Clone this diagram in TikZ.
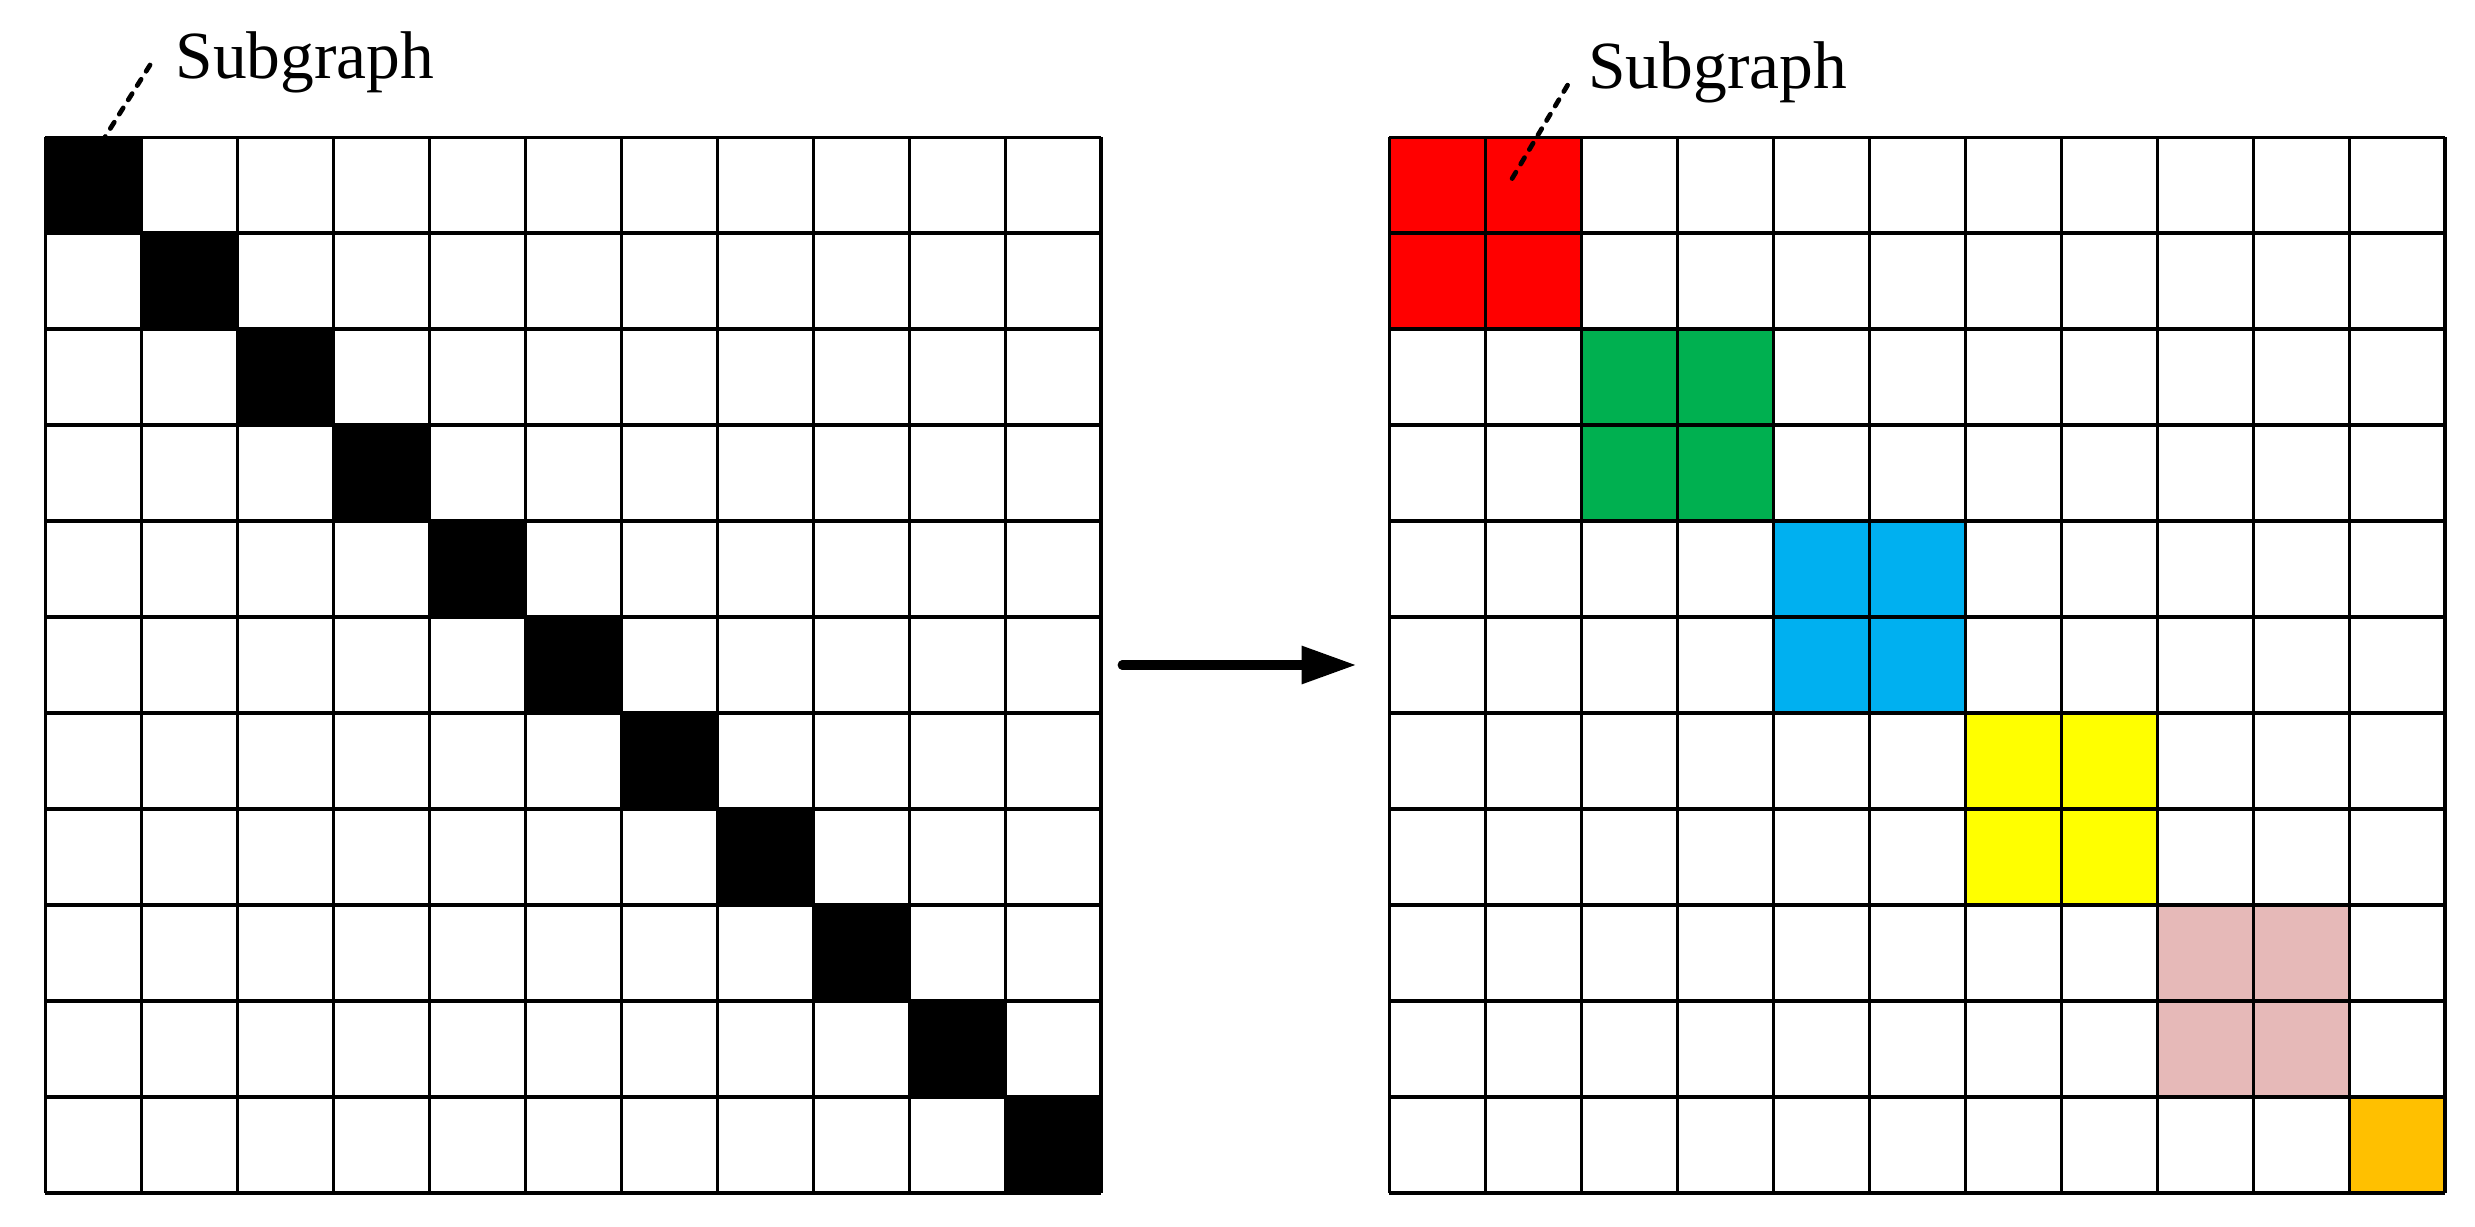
\documentclass[tikz,border=0pt]{standalone}
\usepackage{fontspec}
\setmainfont{Liberation Serif}
\usetikzlibrary{arrows.meta}
\usetikzlibrary{calc}
\definecolor{redb}{HTML}{FF0000}
\definecolor{greenb}{HTML}{00B050}
\definecolor{blueb}{HTML}{00B0F0}
\definecolor{yellowb}{HTML}{FFFF00}
\definecolor{pinkb}{HTML}{E6B9B8}
\definecolor{orangeb}{HTML}{FFC000}
\tikzset{l/.style={font=\fontsize{20}{24}\selectfont, inner sep=0pt, anchor=base west}}
\tikzset{g/.style={line width=0.9pt}}
\tikzset{d/.style={line width=1.4pt, line cap=round, dash pattern=on 2.2pt off 2.8pt}}

\begin{document}
\begin{tikzpicture}
    \useasboundingbox (-0.469,-0.354) rectangle (25.3125,12.427);
    % before: one subgraph per vertex
    \foreach \i in {0,...,10}
      \fill (\i,10-\i) rectangle ++(1,1);
    \draw[g] (0,0) grid (11,11);
    % after: merged subgraphs
    \begin{scope}[xshift=14cm]
      \foreach \c/\k in {redb/0,greenb/2,blueb/4,yellowb/6,pinkb/8}
        \fill[\c] (\k,9-\k) rectangle ++(2,2);
      \fill[orangeb] (10,0) rectangle (11,1);
      \draw[g] (0,0) grid (11,11);
    \end{scope}
    \node[l] (subL) at (1.354,11.61) {Subgraph};
    \node[l] (subR) at (16.07,11.51) {Subgraph};
    \coordinate (tL) at ($(subL.base west)+(-0.26,0.14)$);
    \coordinate (hL) at (0.625,11.0);
    \coordinate (tR) at ($(subR.base west)+(-0.21,0.03)$);
    \coordinate (hR) at (15.26,10.53);
    \draw[d] (tL) -- (hL);
    \draw[d] (tR) -- (hR);
    \coordinate (from) at (11.22,5.5);
    \coordinate (to) at (13.66,5.5);
    \draw[line width=2.7pt, line cap=round, -{Triangle[length=5.7mm,width=3.75mm]}] (from) -- (to);
\end{tikzpicture}
\end{document}
